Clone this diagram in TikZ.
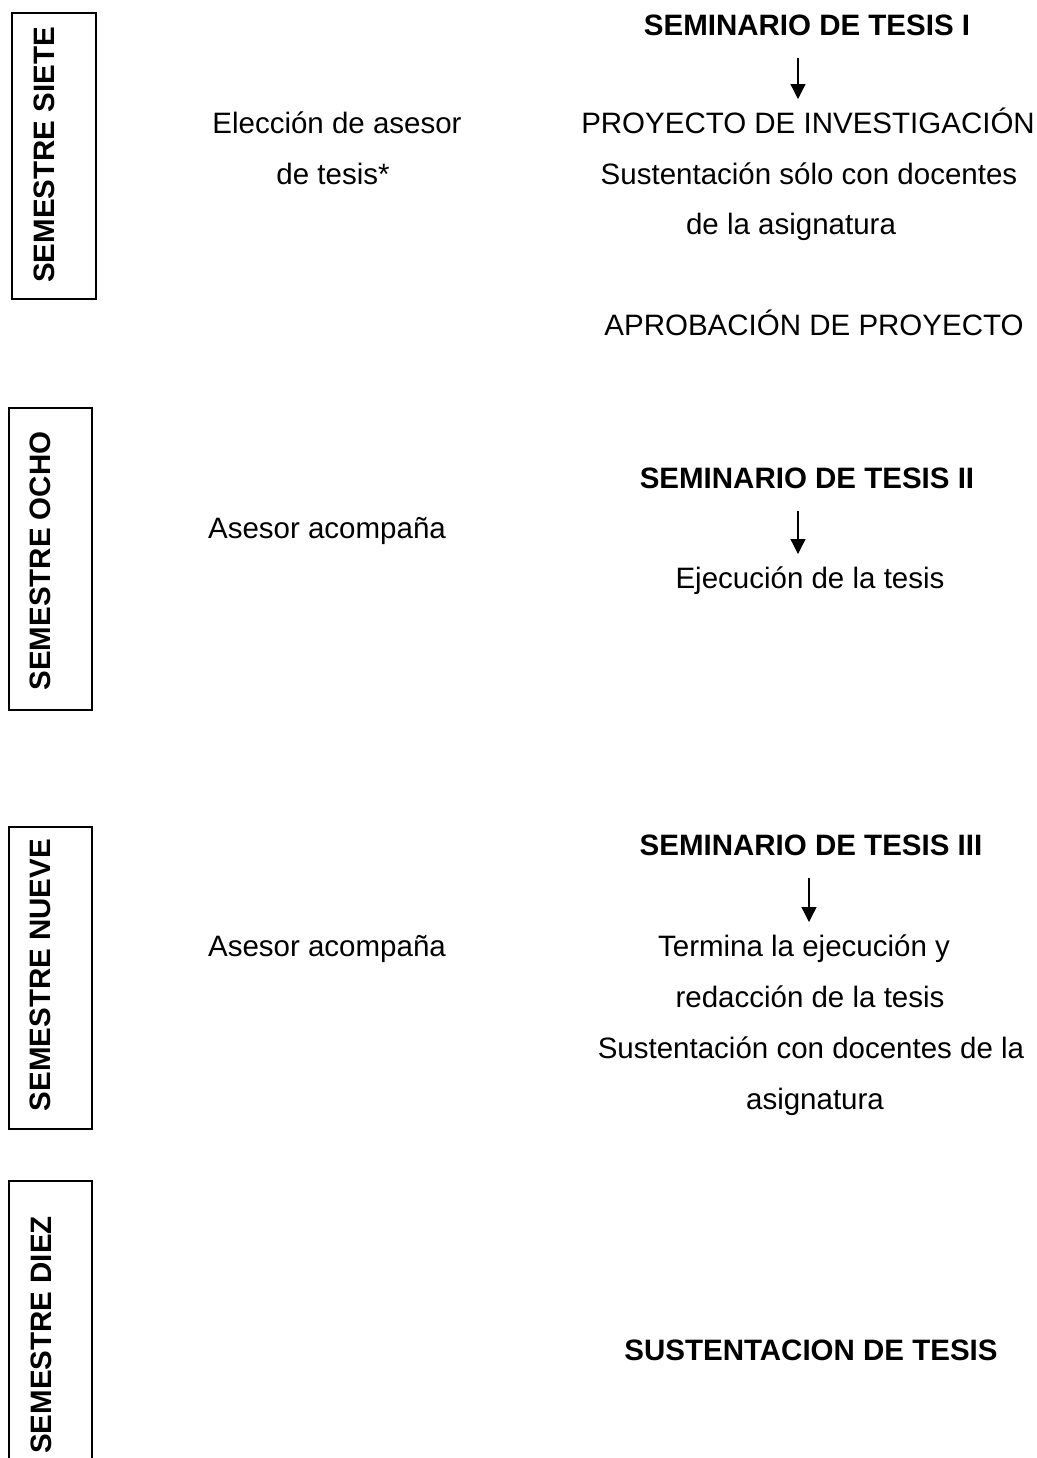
\documentclass[tikz,border=0pt]{standalone}
\usepackage{fontspec}
\setmainfont{Liberation Sans}
\usetikzlibrary{arrows.meta}

\tikzset{
  texto/.style={font=\fontsize{14.75pt}{18pt}\selectfont, inner sep=0pt,
    text height=10.6pt, text depth=0pt},
  titulo/.style={texto, font=\fontsize{14.75pt}{18pt}\selectfont\bfseries},
  semestre/.style={titulo, rotate=90},
  caja/.style={line width=1pt},
  flecha/.style={-{Triangle[width=7.5pt,length=7.5pt]}, line width=0.65pt,
    shorten <=11pt, shorten >=6.5pt}
}

\begin{document}
\begin{tikzpicture}[x=0.5pt,y=-0.5pt]
  \useasboundingbox (0,0) rectangle (1037,1458);
  % semestre siete
  \draw[caja] (12,13) rectangle (96,299);
  \node[semestre] (siete) at (44,155) {SEMESTRE SIETE};
  \node[texto] (eleccion) at (337,123) {Elección de asesor};
  \node[texto] (eleccionb) at (333,174) {de tesis*};
  \node[titulo] (sem1) at (807,25) {SEMINARIO DE TESIS I};
  \node[texto] (proyecto) at (808,123) {PROYECTO DE INVESTIGACIÓN};
  \node[texto] (sustA) at (809,174) {Sustentación sólo con docentes};
  \node[texto] (sustAb) at (791,224) {de la asignatura};
  \node[texto] (aprobacion) at (814,325) {APROBACIÓN DE PROYECTO};
  \coordinate (ejeA) at (798,0);
  \draw[flecha] (sem1.south -| ejeA) -- (proyecto.north -| ejeA);
  % semestre ocho
  \draw[caja] (9,408) rectangle (92,710);
  \node[semestre] (ocho) at (40,561) {SEMESTRE OCHO};
  \node[texto] (asesorA) at (327,528) {Asesor acompaña};
  \node[titulo] (sem2) at (807,478) {SEMINARIO DE TESIS II};
  \node[texto] (ejecucion) at (810,578) {Ejecución de la tesis};
  \coordinate (ejeB) at (798,0);
  \draw[flecha] (sem2.south -| ejeB) -- (ejecucion.north -| ejeB);
  % semestre nueve
  \draw[caja] (9,827) rectangle (92,1129);
  \node[semestre] (nueve) at (40,975) {SEMESTRE NUEVE};
  \node[texto] (asesorB) at (327,946) {Asesor acompaña};
  \node[titulo] (sem3) at (811,845) {SEMINARIO DE TESIS III};
  \node[texto] (termina) at (804,946) {Termina la ejecución y};
  \node[texto] (redaccion) at (810,997) {redacción de la tesis};
  \node[texto] (sustB) at (811,1048) {Sustentación con docentes de la};
  \node[texto] (sustBb) at (815,1099) {asignatura};
  \coordinate (ejeC) at (809,0);
  \draw[flecha] (sem3.south -| ejeC) -- (termina.north -| ejeC);
  % semestre diez
  \draw[caja] (9,1466) -- (9,1181) -- (92,1181) -- (92,1466);
  \node[semestre] (diez) at (41,1335) {SEMESTRE DIEZ};
  \node[titulo] (sustentacion) at (811,1350) {SUSTENTACION DE TESIS};
\end{tikzpicture}
\end{document}
